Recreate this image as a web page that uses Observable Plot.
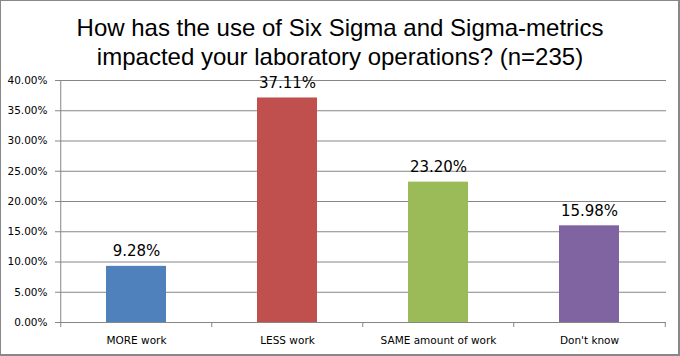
<!DOCTYPE html>
<html>
<head>
<meta charset="utf-8">
<script src="https://cdn.jsdelivr.net/npm/d3@7"></script>
<script src="https://cdn.jsdelivr.net/npm/@observablehq/plot@0.6"></script>
<style>
  html, body { margin: 0; padding: 0; background: #fff; }
  #wrap { position: relative; width: 680px; height: 356px; background: #fff; overflow: hidden; }
  #border { position: absolute; left: 0; top: 0; width: 680px; height: 356px; box-sizing: border-box;
            border: 1px solid #888; border-right-width: 2px; border-bottom-width: 2px; pointer-events: none; }
  #title { position: absolute; left: 0; top: 13px; width: 680px; text-align: center;
           font-family: "Liberation Sans", Arial, sans-serif; font-size: 24px; line-height: 29px; color: #000; }
  #chart { position: absolute; left: 0; top: 62px; }
</style>
</head>
<body>
<div id="wrap">
  <div id="title">How has the use of Six Sigma and Sigma-metrics<br>impacted your laboratory operations? (n=235)</div>
  <div id="chart"></div>
  <div id="border"></div>
</div>
<script>
const categories = ["MORE work", "LESS work", "SAME amount of work", "Don't know"];
const values = [0.0928, 0.3711, 0.2320, 0.1598];
const colors = ["#4F81BD", "#C0504D", "#9BBB59", "#8064A2"];
const yTicks = [0, 0.05, 0.10, 0.15, 0.20, 0.25, 0.30, 0.35, 0.40];

const data = categories.map((c, i) => ({category: c, value: values[i], color: colors[i]}));

const W = 680, H = 294, mL = 60, mR = 14, mT = 18, mB = 34;
const step = (W - mL - mR) / categories.length;
const grid = "#868686";
const font = "DejaVu Sans, sans-serif";
const pct = d3.format(".2%");

const chart = Plot.plot({
  width: W, height: H,
  marginLeft: mL, marginRight: mR, marginTop: mT, marginBottom: mB,
  style: {fontFamily: font, background: "transparent", overflow: "visible"},
  x: {domain: categories, paddingInner: 0.6, paddingOuter: 0.3, axis: null, label: null},
  y: {domain: [0, 0.4], axis: null, label: null},
  marks: [
    Plot.gridY(yTicks, {stroke: grid, strokeOpacity: 1}),
    Plot.axisY(yTicks, {tickFormat: pct, tickSize: 5, tickPadding: 8, stroke: grid, fill: "#000", fontSize: 10.5, label: null}),
    Plot.ruleX([categories[0]], {dx: -step / 2, stroke: grid}),
    Plot.ruleX(categories, {dx: -step / 2, y1: 0, y2: 0, insetBottom: -5, stroke: grid}),
    Plot.ruleX([categories[categories.length - 1]], {dx: step / 2, y1: 0, y2: 0, insetBottom: -5, stroke: grid}),
    Plot.barY(data, {x: "category", y: "value", fill: "color"}),
    Plot.ruleY([0], {stroke: grid}),
    Plot.axisX({tickSize: 0, tickPadding: 14, fontSize: 10.5, fill: "#000", label: null}),
    Plot.text(data, {x: "category", y: "value", text: d => pct(d.value), dy: -10, lineAnchor: "bottom", fontSize: 15, fill: "#000"})
  ]
});
document.getElementById("chart").appendChild(chart);
</script>
</body>
</html>
